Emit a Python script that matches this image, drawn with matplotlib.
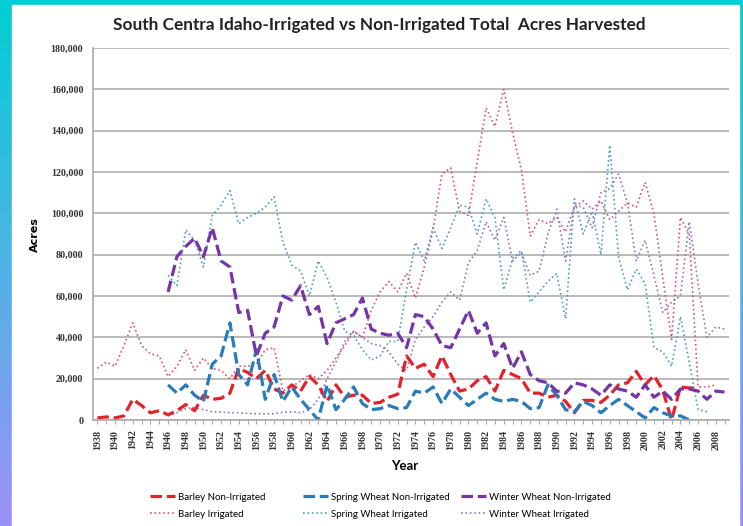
import matplotlib.pyplot as plt
import numpy as np
from matplotlib.colors import LinearSegmentedColormap
from matplotlib.lines import Line2D

# acres harvested, South Central Idaho
barley_ni_start = 1938
barley_ni = [1000, 1500, 1000, 2000, 10000, 7000, 3500, 4500, 2500, 4500,
             7500, 4500, 12000, 10000, 10500, 13000, 25000, 23000, 20000, 24000,
             15000, 13000, 17000, 14000, 21000, 17000, 9000, 17000, 11000, 12000,
             12000, 8000, 8500, 11000, 12500, 31000, 25000, 27000, 21000, 31000,
             22000, 14000, 15000, 19000, 21000, 14000, 24000, 22000, 20000, 13000,
             13000, 11000, 12000, 9000, 3500, 9500, 9500, 8500, 12000, 17000,
             18000, 23500, 17000, 21500, 14500, 0, 16000, 15500, 15500]

spring_ni_start = 1946
spring_ni = [17000, 13000, 17000, 12000, 9000, 27000, 31000, 47000, 22000, 17000,
             34000, 10000, 22000, 9000, 16000, 10000, 5000, 0, 17000, 5000,
             10000, 16000, 8000, 5000, 5500, 7000, 5500, 6000, 14000, 13000,
             16000, 8000, 15000, 11000, 7000, 10000, 13000, 10000, 9000, 10000,
             9000, 5500, 6000, 17000, 12000, 5000, 4000, 9000, 7000, 3500,
             7000, 10000, 7000, 4000, 1000, 6000, 3500, 2000, 2000, 0]

winter_ni_start = 1946
winter_ni = [62000, 79000, 84000, 88000, 79000, 93000, 77000, 74000, 52000, 53000,
             31000, 42000, 45000, 60000, 58000, 65000, 51000, 55000, 37000, 47000,
             49000, 51000, 59000, 44000, 42000, 41000, 42000, 35000, 51000, 50000,
             44000, 36000, 35000, 44000, 53000, 42000, 47000, 31000, 37000, 25000,
             33000, 22000, 19000, 18000, 14000, 13000, 18000, 17000, 15000, 12000,
             17000, 15000, 14000, 11000, 17000, 11000, 14000, 10000, 15000, 15000,
             14000, 10000, 14000, 13500]

barley_ir_start = 1938
barley_ir = [25000, 28000, 26000, 36000, 47000, 36000, 32000, 31000, 21000, 26000,
             34000, 24000, 30000, 25000, 24000, 20000, 26000, 26000, 27000, 34000,
             35000, 14000, 16000, 19000, 22000, 20000, 24000, 30000, 36000, 43000,
             40000, 53000, 62000, 67000, 62000, 71000, 59000, 74000, 92000, 119000,
             122000, 101000, 99000, 125000, 151000, 142000, 160000, 139000, 121000, 89000,
             97000, 95000, 98000, 91000, 103000, 106000, 102000, 106000, 97000, 101000,
             105000, 103000, 115000, 100000, 69000, 39000, 98000, 90000, 16000, 16000,
             17000]

spring_ir_start = 1946
spring_ir = [70000, 65000, 92000, 87000, 74000, 99000, 104000, 111000, 95000, 98000,
             100000, 103000, 108000, 86000, 75000, 72000, 60000, 77000, 69000, 57000,
             43000, 41000, 34000, 29000, 31000, 38000, 38000, 63000, 86000, 77000,
             93000, 83000, 93000, 104000, 103000, 90000, 107000, 98000, 63000, 78000,
             82000, 57000, 62000, 67000, 71000, 49000, 107000, 90000, 101000, 80000,
             133000, 79000, 63000, 73000, 66000, 35000, 33000, 26000, 50000, 28000,
             5000, 4000]

winter_ir_start = 1946
winter_ir = [2000, 3500, 5500, 6000, 5000, 4000, 3800, 3500, 3500, 3200,
             3000, 3000, 3000, 3800, 4000, 3500, 5000, 10000, 20000, 28000,
             38000, 43000, 40000, 37000, 36000, 33000, 27000, 24000, 39000, 45000,
             50000, 57000, 62000, 58000, 76000, 82000, 96000, 87000, 98000, 77000,
             81000, 70000, 72000, 90000, 102000, 77000, 104000, 103000, 93000, 110000,
             112000, 119000, 105000, 77000, 87000, 70000, 52000, 57000, 60000, 96000,
             66000, 40000, 45000, 44000]

first_year = 1938
last_year = 2009
yticks = np.arange(0, 180001, 20000)

W, H = 743, 526
fig = plt.figure(figsize=(W / 100, H / 100), dpi=100)

# gradient backdrop + white slide panel
bg = fig.add_axes([0, 0, 1, 1], zorder=-10)
grad = np.linspace(0, 1, 256).reshape(-1, 1)
cmap = LinearSegmentedColormap.from_list("bg", ["#00CFD2", "#4FB3E6", "#9D90F8"])
bg.imshow(grad, aspect="auto", cmap=cmap, extent=[0, 1, 0, 1], origin="upper")
bg.add_patch(plt.Rectangle((12 / W, 0), (739 - 12) / W, 1 - 5 / H, color="white"))
bg.set_xlim(0, 1)
bg.set_ylim(0, 1)
bg.axis("off")

ax = fig.add_axes([93 / W, 1 - 420 / H, (729 - 93) / W, (420 - 48) / H])
ax.set_facecolor("none")


def yrs(start, vals):
    return np.arange(start, start + len(vals))


dash = (0, (3.6, 1.5))
c_bni, c_bir = "#E3222B", "#E0506A"
c_sni, c_sir = "#2A7BBA", "#4A9DC2"
c_wni, c_wir = "#7435A5", "#8A78C0"
ax.plot(yrs(barley_ir_start, barley_ir), barley_ir, color=c_bir, lw=1.2, ls=":")
ax.plot(yrs(spring_ir_start, spring_ir), spring_ir, color=c_sir, lw=1.2, ls=":")
ax.plot(yrs(winter_ir_start, winter_ir), winter_ir, color=c_wir, lw=1.2, ls=":")
ax.plot(yrs(barley_ni_start, barley_ni), barley_ni, color=c_bni, lw=2.3, ls=dash)
ax.plot(yrs(spring_ni_start, spring_ni), spring_ni, color=c_sni, lw=2.3, ls=dash)
ax.plot(yrs(winter_ni_start, winter_ni), winter_ni, color=c_wni, lw=2.3, ls=dash)

tick_font = ["Liberation Serif", "DejaVu Serif"]
ax.set_xlim(first_year - 0.5, last_year + 0.5)
ax.set_ylim(0, 180000)
ax.set_yticks(yticks)
ax.set_yticklabels([f"{v:,}" for v in yticks], fontsize=7.2, fontweight="bold",
                   family=tick_font, color="#333333")
ax.grid(axis="y", color="#B4B4B4", lw=1.3)
ax.set_axisbelow(True)

all_years = np.arange(first_year, last_year + 1)
ax.set_xticks(all_years)
ax.set_xticklabels([str(y) if y % 2 == 0 else "" for y in all_years], rotation=90,
                   fontsize=7.2, fontweight="bold", family=tick_font, color="#333333")
ax.tick_params(axis="x", length=3, color="#AAAAAA", pad=4)
ax.tick_params(axis="y", length=0, pad=7)

for s in ["top", "right"]:
    ax.spines[s].set_visible(False)
for s in ["left", "bottom"]:
    ax.spines[s].set_color("#AAAAAA")
    ax.spines[s].set_linewidth(1.2)

fig.text(379 / W, 1 - 25 / H, "South Centra Idaho-Irrigated vs Non-Irrigated Total  Acres Harvested",
         ha="center", va="center", fontsize=12.4, fontweight="bold", family="Lato", color="#222222")
fig.text(35 / W, 1 - 235 / H, "Acres", rotation=90, ha="center", va="center",
         fontsize=8, fontweight="bold", family="DejaVu Sans")
fig.text(405 / W, 1 - 466 / H, "Year", ha="center", va="center",
         fontsize=9.5, fontweight="bold", family="Lato")

# legend: three fixed-position columns, non-irrigated on top, irrigated below
legend_cols = [
    (143, [("Barley Non-Irrigated", c_bni), ("Barley Irrigated", c_bir)]),
    (296, [("Spring Wheat Non-Irrigated", c_sni), ("Spring Wheat Irrigated", c_sir)]),
    (454, [("Winter Wheat Non-Irrigated", c_wni), ("Winter Wheat Irrigated", c_wir)]),
]
for x0, entries in legend_cols:
    hs = [Line2D([], [], color=entries[0][1], lw=2.3, ls=dash),
          Line2D([], [], color=entries[1][1], lw=1.2, ls=":")]
    fig.legend(hs, [e[0] for e in entries], loc="upper left",
               bbox_to_anchor=(x0 / W, 1 - 486 / H), frameon=False,
               handlelength=2.6, handletextpad=0.3, labelspacing=0.8,
               borderpad=0.2, prop={"family": "Lato", "size": 7})

fig.savefig("out.png", dpi=100)
